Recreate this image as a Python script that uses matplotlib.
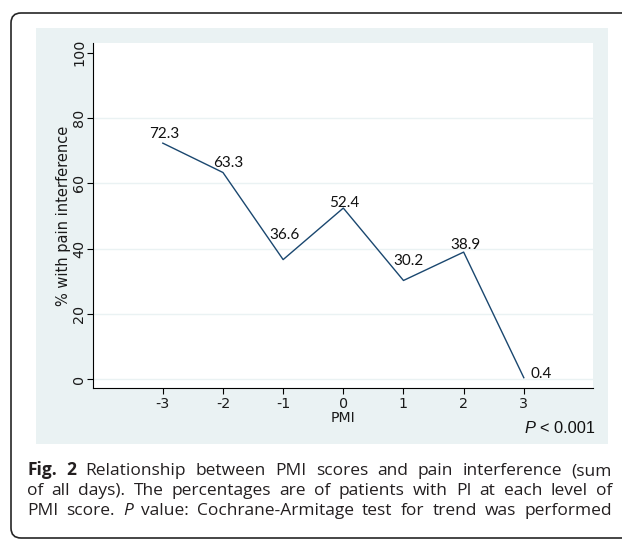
import matplotlib.pyplot as plt
import matplotlib.patches as mpatches
from matplotlib.transforms import IdentityTransform

# percentage of patients with pain interference at each PMI score
pmi = [-3, -2, -1, 0, 1, 2, 3]
pct_pi = [72.3, 63.3, 36.6, 52.4, 30.2, 38.9, 0.4]
y_ticks = [0, 20, 40, 60, 80, 100]
grid_levels = [0, 20, 40, 60, 80]

# where each value label sits relative to its point (points, baseline)
label_offsets = [(1.1, 4.0), (3.6, 4.0), (1.2, 14.8), (0.7, 1.1), (3.6, 11.2), (1.4, 2.5), (5.0, -0.4)]
label_ha = ["center"] * 6 + ["left"]

caption_lines = [
    [("Fig. 2", "bold"), ("Relationship between PMI scores and pain interference (sum", "normal")],
    [("of all days). The percentages are of patients with PI at each level of", "normal")],
    [("PMI score.", "normal"), ("P", "italic"), ("value: Cochrane-Armitage test for trend was performed", "normal")],
]

W, H = 622, 540
fig = plt.figure(figsize=(W / 100, H / 100), dpi=100)
fig.patch.set_facecolor("white")


def frac_box(x0, y0, x1, y1):
    # pixel box measured from the top-left corner -> figure fraction rect
    return [x0 / W, 1 - y1 / H, (x1 - x0) / W, (y1 - y0) / H]


# rounded frame around figure + caption (runs off the right side)
frame = mpatches.FancyBboxPatch((11, H - 538), 720, 525,
                                boxstyle="round,pad=0,rounding_size=10",
                                transform=IdentityTransform(),
                                fc="white", ec="#262626", lw=1.2, zorder=0)
fig.add_artist(frame)

# Stata-style light graph region
panel = mpatches.Rectangle((36 / W, 1 - 444 / H), (608 - 36) / W, (444 - 28) / H,
                           transform=fig.transFigure, fc="#eaf2f3", ec="none", zorder=0.5)
fig.add_artist(panel)

ax = fig.add_axes(frac_box(93, 43, 593, 388), zorder=1)
ax.set_facecolor("white")

for g in grid_levels:
    ax.axhline(g, color="#eaf2f3", lw=1.0, zorder=0)

ax.plot(pmi, pct_pi, color="#1a476f", lw=1.0, zorder=3)

for x, v, off, ha in zip(pmi, pct_pi, label_offsets, label_ha):
    ax.annotate(f"{v}", (x, v), xytext=off, textcoords="offset points",
                ha=ha, va="baseline", family="Lato", fontsize=11, color="#111111")

ax.set_xlim(-4.16, 4.15)
ax.set_ylim(-2.76, 103)
ax.set_xticks(pmi)
ax.set_xticklabels([str(v) for v in pmi])
ax.set_yticks(y_ticks)
ax.set_yticklabels([str(v) for v in y_ticks])

for side in ["top", "right"]:
    ax.spines[side].set_visible(False)
for side in ["left", "bottom"]:
    ax.spines[side].set_linewidth(0.8)
    ax.spines[side].set_color("black")

ax.tick_params(axis="both", direction="out", length=4.0, width=0.8, color="black",
               labelsize=10.3, labelcolor="#1a1a1a")
ax.tick_params(axis="x", pad=2.2)
ax.tick_params(axis="y", pad=1.0, labelrotation=90)
for t in ax.get_yticklabels():
    t.set_va("center")
for t in ax.get_xticklabels() + ax.get_yticklabels():
    t.set_family("DejaVu Sans")

ax.set_xlabel("PMI", family="DejaVu Sans", fontsize=10.2, labelpad=0.5, color="#1a1a1a")
ax.set_ylabel("% with pain interference", family="DejaVu Sans", fontsize=10.5,
              labelpad=1.0, color="#1a1a1a")

renderer = fig.canvas.get_renderer()


def text_width(s, **kw):
    t = fig.text(0, 0, s, **kw)
    w = t.get_window_extent(renderer).width
    t.remove()
    return w


# P value note, right-aligned under the x axis
note_kw = dict(family="Liberation Sans", fontsize=11.8, color="#111111")
note_gap = text_width("x x", **note_kw) - text_width("xx", **note_kw)
rest = "< 0.001"
w_rest = text_width(rest, **note_kw)
w_p = text_width("P", style="italic", **note_kw)
x_right = 595
base_y = 433
fig.text((x_right - w_rest) / W, 1 - base_y / H, rest, va="baseline", ha="left", **note_kw)
fig.text((x_right - w_rest - note_gap - w_p) / W, 1 - base_y / H, "P", style="italic",
         va="baseline", ha="left", **note_kw)

# justified caption, words spread across the text block
cap_left, cap_right = 27, 612
cap_kw = dict(family="Open Sans", fontsize=12.5, color="#231f20")
baselines = [475, 495, 515]


def word_style(style):
    kw = dict(cap_kw)
    if style == "bold":
        kw["weight"] = "bold"
    elif style == "italic":
        kw["style"] = "italic"
    return kw


for line, base in zip(caption_lines, baselines):
    words = []
    for chunk, style in line:
        for wd in chunk.split(" "):
            words.append((wd, style))
    widths = [text_width(wd, **word_style(style)) for wd, style in words]
    gap = (cap_right - cap_left - sum(widths)) / (len(words) - 1)
    x = cap_left
    for (wd, style), w in zip(words, widths):
        fig.text(x / W, 1 - base / H, wd, va="baseline", ha="left", **word_style(style))
        x += w + gap

fig.savefig("out.png", dpi=100)
